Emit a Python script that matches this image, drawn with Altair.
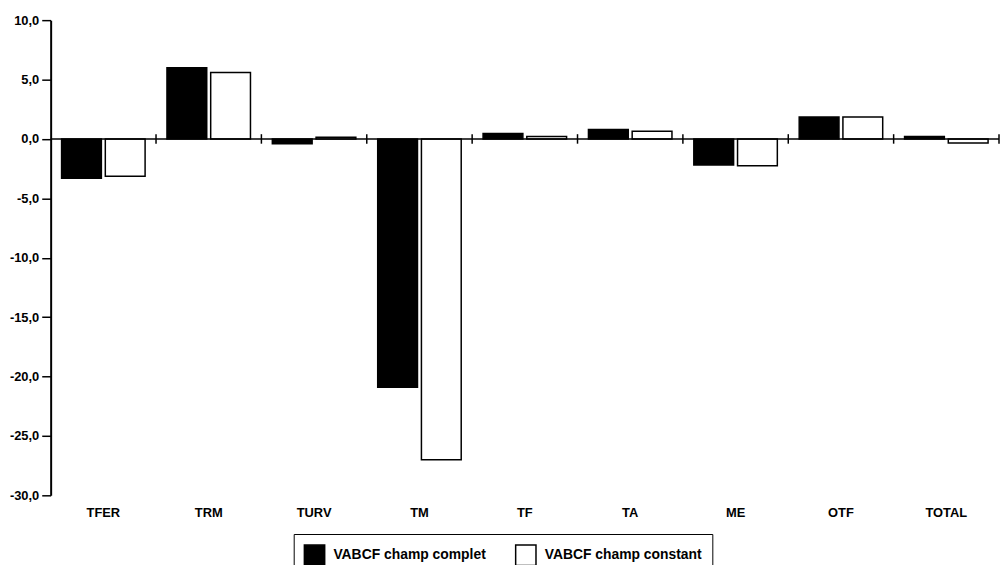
import altair as alt
import pandas as pd

categories = ["TFER", "TRM", "TURV", "TM", "TF", "TA", "ME", "OTF", "TOTAL"]
series = ["VABCF champ complet", "VABCF champ constant"]
complet = [-3.3, 6.0, -0.4, -20.9, 0.45, 0.8, -2.2, 1.85, 0.2]
constant = [-3.15, 5.6, 0.15, -27.0, 0.2, 0.65, -2.25, 1.85, -0.35]
y_ticks = [-30, -25, -20, -15, -10, -5, 0, 5, 10]

rows = []
for c, a, b in zip(categories, complet, constant):
    rows.append({"cat": c, "serie": series[0], "val": a})
    rows.append({"cat": c, "serie": series[1], "val": b})
df = pd.DataFrame(rows)
cat_df = pd.DataFrame({"cat": categories})

FONT = "Liberation Sans"

xscale = alt.Scale(domain=categories, paddingInner=0, paddingOuter=0)
yscale = alt.Scale(domain=[-30, 10], nice=False, zero=False)

x_enc = alt.X(
    "cat:N",
    scale=xscale,
    sort=categories,
    axis=alt.Axis(
        title=None, domain=False, ticks=False, labelAngle=0,
        labelFont=FONT, labelFontWeight="bold", labelFontSize=13,
        labelColor="black", labelPadding=11,
    ),
)
y_enc = alt.Y(
    "val:Q",
    scale=yscale,
    axis=alt.Axis(
        title=None, values=y_ticks, grid=False,
        domainColor="black", domainWidth=2,
        tickColor="black", tickWidth=1.5, tickSize=9,
        labelFont=FONT, labelFontWeight="bold", labelFontSize=13,
        labelColor="black", labelPadding=3,
        labelExpr="(datum.value < 0 ? '-' : '') + replace(format(abs(datum.value), '.1f'), '.', ',')",
    ),
)

bars = alt.Chart(df).mark_bar(stroke="black", strokeWidth=1.5).encode(
    x=x_enc,
    xOffset=alt.XOffset("serie:N", sort=series,
                        scale=alt.Scale(domain=series, paddingInner=0.09, paddingOuter=0.25)),
    y=y_enc,
    color=alt.Color(
        "serie:N",
        sort=series,
        scale=alt.Scale(domain=series, range=["black", "white"]),
        legend=alt.Legend(
            title=None, orient="none", legendX=245, legendY=518,
            direction="horizontal", strokeColor="black", fillColor="white",
            padding=10, symbolType="square", symbolSize=420,
            symbolStrokeColor="black", symbolStrokeWidth=1.5,
            symbolOpacity=1,
            labelFont=FONT, labelFontWeight="bold", labelFontSize=14,
            labelColor="black", labelOffset=8, columnPadding=26,
        ),
    ),
)

zero = alt.Chart(pd.DataFrame({"v": [0]})).mark_rule(color="black", strokeWidth=1.5).encode(
    y=alt.Y("v:Q", scale=yscale)
)

ticks = alt.Chart(cat_df).mark_rule(color="black", strokeWidth=1.5).encode(
    x=alt.X("cat:N", scale=xscale, sort=categories, bandPosition=1),
    y=alt.datum(-0.4),
    y2=alt.datum(0.4),
)

chart = alt.layer(bars, zero, ticks).properties(
    width=956,
    height=479,
    background="white",
    autosize=alt.AutoSizeParams(type="none"),
    padding={"left": 43, "top": 10, "right": 1, "bottom": 68},
).configure_view(strokeWidth=0, stroke=None)

chart.save("out.html", embed_options={"renderer": "svg", "actions": False})
